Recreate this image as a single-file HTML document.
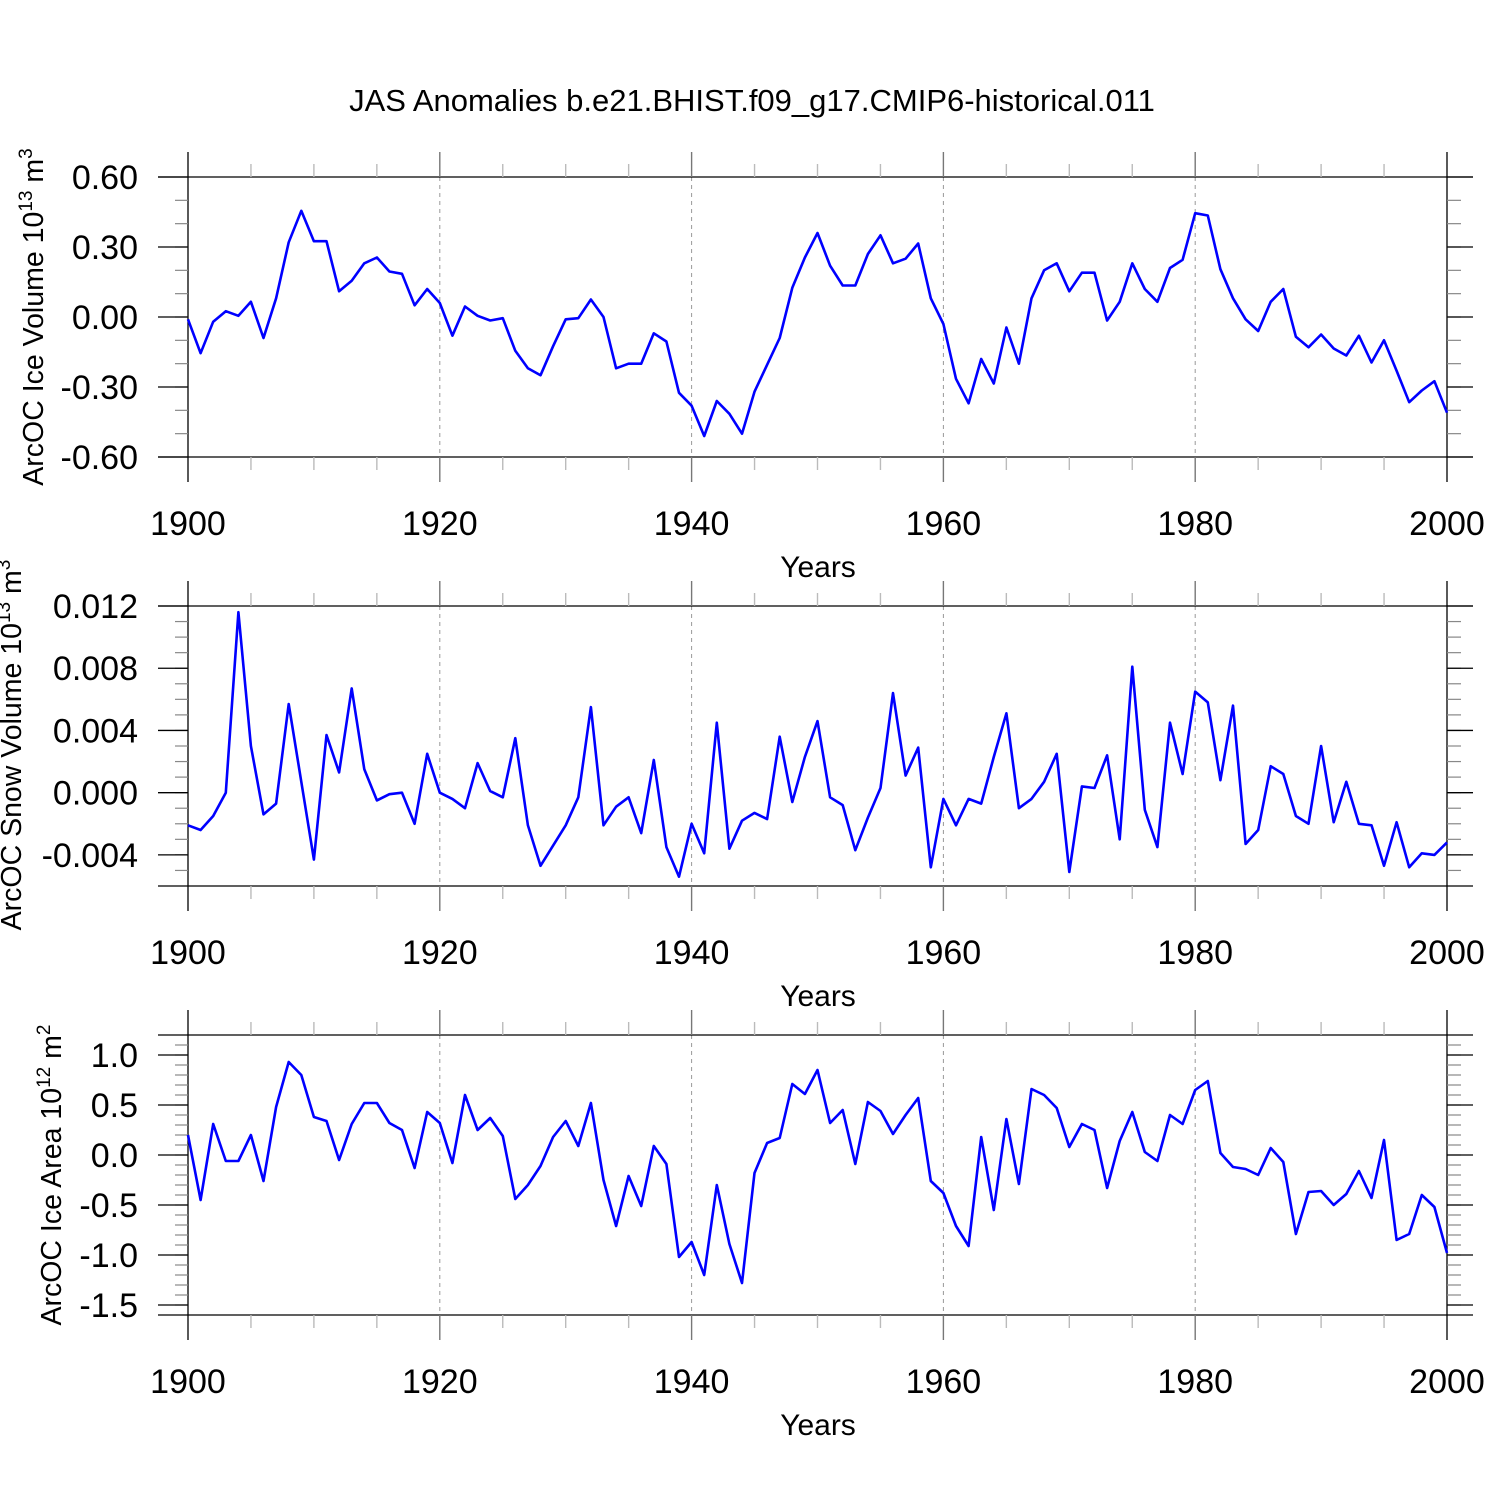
<!DOCTYPE html>
<html><head><meta charset="utf-8"><style>
body{margin:0;background:#fff}
svg{display:block;font-family:"Liberation Sans",sans-serif}
</style></head><body>
<svg id="chart" width="1500" height="1500" viewBox="0 0 1500 1500" xmlns="http://www.w3.org/2000/svg">
<rect width="1500" height="1500" fill="#fff"/>
<text x="752" y="111" font-size="31" text-anchor="middle">JAS Anomalies b.e21.BHIST.f09_g17.CMIP6-historical.011</text>
</svg>
<script>
const years = [];
for (let y = 1900; y <= 2000; y++) years.push(y);
const iceVolume = [-0.01,-0.155,-0.02,0.025,0.005,0.065,-0.09,0.08,0.32,0.455,0.325,0.325,0.11,0.155,0.23,0.255,0.195,0.185,0.05,0.12,0.06,-0.08,0.045,0.005,-0.015,-0.005,-0.145,-0.22,-0.25,-0.125,-0.01,-0.005,0.075,0.0,-0.22,-0.2,-0.2,-0.07,-0.105,-0.325,-0.38,-0.51,-0.36,-0.415,-0.5,-0.32,-0.205,-0.09,0.125,0.255,0.36,0.22,0.135,0.135,0.27,0.35,0.23,0.25,0.315,0.08,-0.03,-0.265,-0.37,-0.18,-0.285,-0.045,-0.2,0.08,0.2,0.23,0.11,0.19,0.19,-0.015,0.065,0.23,0.12,0.065,0.21,0.245,0.445,0.435,0.205,0.08,-0.01,-0.06,0.065,0.12,-0.085,-0.13,-0.075,-0.135,-0.165,-0.08,-0.195,-0.1,-0.23,-0.365,-0.315,-0.275,-0.41];
const snowVolume = [-0.0021,-0.0024,-0.0015,0.0,0.0116,0.003,-0.0014,-0.0007,0.0057,0.0007,-0.0043,0.0037,0.0013,0.0067,0.0015,-0.0005,-0.0001,0.0,-0.002,0.0025,0.0,-0.0004,-0.001,0.0019,0.0001,-0.0003,0.0035,-0.0021,-0.0047,-0.0034,-0.0021,-0.0003,0.0055,-0.0021,-0.0009,-0.0003,-0.0026,0.0021,-0.0035,-0.0054,-0.002,-0.0039,0.0045,-0.0036,-0.0018,-0.0013,-0.0017,0.0036,-0.0006,0.0023,0.0046,-0.0003,-0.0008,-0.0037,-0.0016,0.0003,0.0064,0.0011,0.0029,-0.0048,-0.0004,-0.0021,-0.0004,-0.0007,0.0023,0.0051,-0.001,-0.0004,0.0007,0.0025,-0.0051,0.0004,0.0003,0.0024,-0.003,0.0081,-0.0011,-0.0035,0.0045,0.0012,0.0065,0.0058,0.0008,0.0056,-0.0033,-0.0024,0.0017,0.0012,-0.0015,-0.002,0.003,-0.0019,0.0007,-0.002,-0.0021,-0.0047,-0.0019,-0.0048,-0.0039,-0.004,-0.0032];
const iceArea = [0.2,-0.45,0.31,-0.06,-0.06,0.2,-0.26,0.48,0.93,0.8,0.38,0.34,-0.05,0.31,0.52,0.52,0.32,0.25,-0.13,0.43,0.32,-0.08,0.6,0.25,0.37,0.19,-0.44,-0.3,-0.11,0.18,0.34,0.09,0.52,-0.25,-0.71,-0.21,-0.51,0.09,-0.09,-1.02,-0.87,-1.2,-0.3,-0.89,-1.28,-0.18,0.12,0.17,0.71,0.61,0.85,0.32,0.45,-0.09,0.53,0.44,0.21,0.4,0.57,-0.26,-0.38,-0.71,-0.91,0.18,-0.55,0.36,-0.29,0.66,0.6,0.47,0.08,0.31,0.25,-0.33,0.14,0.43,0.03,-0.06,0.4,0.31,0.65,0.74,0.02,-0.12,-0.14,-0.2,0.07,-0.07,-0.79,-0.37,-0.36,-0.5,-0.39,-0.16,-0.43,0.15,-0.85,-0.79,-0.4,-0.52,-0.98];
const xTicks = [1900,1920,1940,1960,1980,2000];
const ticks1 = ["0.60","0.30","0.00","-0.30","-0.60"];
const ticks2 = ["0.012","0.008","0.004","0.000","-0.004"];
const ticks3 = ["1.0","0.5","0.0","-0.5","-1.0","-1.5"];

const NS = "http://www.w3.org/2000/svg";
const svg = document.getElementById('chart');
const X0 = 188, X1 = 1447;
const xs = y => X0 + (y - 1900) * (X1 - X0) / 100;
function mk(tag, attrs, parent) {
  const e = document.createElementNS(NS, tag);
  for (const k in attrs) e.setAttribute(k, attrs[k]);
  (parent || svg).appendChild(e);
  return e;
}
function panel(cfg) {
  const g = mk('g', {});
  
  
  const T = cfg.top, B = cfg.bot;
  const ys = v => T + (cfg.ymax - v) * (B - T) / (cfg.ymax - cfg.ymin);
  [1920,1940,1960,1980].forEach(yr => {
    const l = mk('line', {x1: xs(yr), x2: xs(yr), y1: T, y2: B, stroke: '#999', 'stroke-width': 1, 'stroke-dasharray': '4,4'}, g);
    
    
  });
  mk('line', {x1: 158, x2: 1473, y1: T, y2: T, stroke: '#000', 'stroke-width': 1.3}, g);
  mk('line', {x1: 158, x2: 1473, y1: B, y2: B, stroke: '#000', 'stroke-width': 1.3}, g);
  mk('line', {x1: X0, x2: X0, y1: T - 25, y2: B + 25, stroke: '#000', 'stroke-width': 1.3}, g);
  mk('line', {x1: X1, x2: X1, y1: T - 25, y2: B + 25, stroke: '#000', 'stroke-width': 1.3}, g);
  for (let yr = 1905; yr < 2000; yr += 5) {
    if (yr % 20 === 0) {
      mk('line', {x1: xs(yr), x2: xs(yr), y1: T - 25, y2: T, stroke: '#777', 'stroke-width': 1.4}, g);
      mk('line', {x1: xs(yr), x2: xs(yr), y1: B, y2: B + 25, stroke: '#777', 'stroke-width': 1.4}, g);
    } else {
      mk('line', {x1: xs(yr), x2: xs(yr), y1: T - 13, y2: T, stroke: '#bbb', 'stroke-width': 1.4}, g);
      mk('line', {x1: xs(yr), x2: xs(yr), y1: B, y2: B + 13, stroke: '#bbb', 'stroke-width': 1.4}, g);
    }
  }
  xTicks.forEach(yr => {
    const t = mk('text', {x: xs(yr), y: B + 78, 'font-size': 34, 'text-anchor': 'middle'}, g);
    t.textContent = yr;
    
    
  });
  const xt = mk('text', {x: 818, y: B + 120, 'font-size': 30, 'text-anchor': 'middle'}, g);
  xt.textContent = 'Years';
  
  
  const nMinor = Math.round((cfg.ymax - cfg.ymin) / cfg.minor);
  for (let i = 1; i < nMinor; i++) {
    const v = cfg.ymax - i * cfg.minor;
    const y = ys(v);
    mk('line', {x1: X0 - 13, x2: X0, y1: y, y2: y, stroke: '#888', 'stroke-width': 1.2}, g);
    mk('line', {x1: X1, x2: X1 + 14, y1: y, y2: y, stroke: '#888', 'stroke-width': 1.2}, g);
  }
  cfg.ticks.forEach(lbl => {
    const y = ys(parseFloat(lbl));
    mk('line', {x1: 158, x2: X0, y1: y, y2: y, stroke: '#000', 'stroke-width': 1.3}, g);
    mk('line', {x1: X1, x2: 1473, y1: y, y2: y, stroke: '#000', 'stroke-width': 1.3}, g);
    const t = mk('text', {x: 138, y: y + 12, 'font-size': 34, 'text-anchor': 'end'}, g);
    t.textContent = lbl;
    
    
  });
  const yt = mk('text', {transform: `translate(${cfg.tx},${cfg.ty}) rotate(-90)`, 'font-size': 28.5, 'text-anchor': 'middle'}, g);
  
  
  yt.innerHTML = cfg.title;
  const d = cfg.data.map((v, i) => (i ? 'L' : 'M') + xs(years[i]).toFixed(1) + ',' + ys(v).toFixed(1)).join('');
  const p = mk('path', {d: d, fill: 'none', stroke: '#0000ff', 'stroke-width': 2.6, 'stroke-linejoin': 'round'}, g);
  
  
}
panel({name: 'ice-volume-panel', top: 177, bot: 457, ymax: 0.6, ymin: -0.6, minor: 0.1, ticks: ticks1, data: iceVolume, tx: 43, ty: 317,
  title: 'ArcOC Ice Volume 10<tspan dy="-11" font-size="19">13</tspan><tspan dy="11"> m</tspan><tspan dy="-11" font-size="19">3</tspan>'});
panel({name: 'snow-volume-panel', top: 606, bot: 886, ymax: 0.012, ymin: -0.006, minor: 0.001, ticks: ticks2, data: snowVolume, tx: 21, ty: 745,
  title: 'ArcOC Snow Volume 10<tspan dy="-11" font-size="19">13</tspan><tspan dy="11"> m</tspan><tspan dy="-11" font-size="19">3</tspan>'});
panel({name: 'ice-area-panel', top: 1035, bot: 1315, ymax: 1.2, ymin: -1.6, minor: 0.1, ticks: ticks3, data: iceArea, tx: 61, ty: 1175,
  title: 'ArcOC Ice Area 10<tspan dy="-11" font-size="19">12</tspan><tspan dy="11"> m</tspan><tspan dy="-11" font-size="19">2</tspan>'});
</script>
</body></html>
